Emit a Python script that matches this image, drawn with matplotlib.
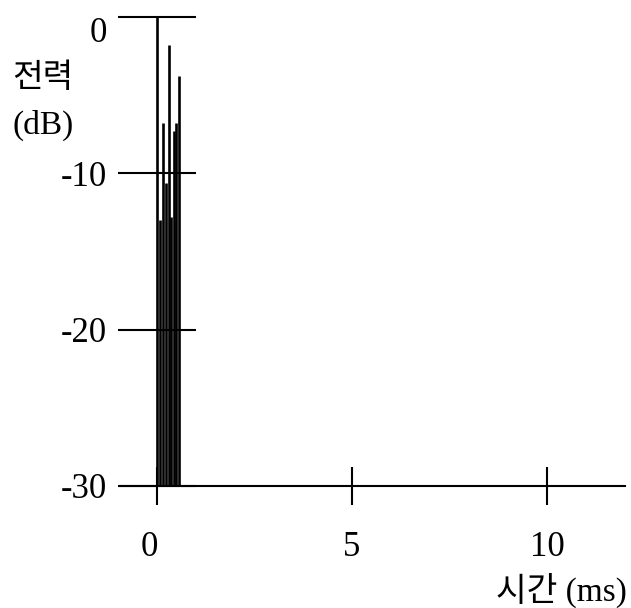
import matplotlib
matplotlib.use("Agg")
import matplotlib.pyplot as plt
import matplotlib.transforms as mtransforms

# Data
times_ms = [0.0, 0.08, 0.15, 0.23, 0.30, 0.36, 0.43, 0.49, 0.56]
levels_db = [0.0, -13.0, -6.8, -10.6, -1.8, -12.8, -7.3, -6.8, -3.8]
x_ticks = [0, 5, 10]
y_ticks = [0, -10, -20, -30]
y_label_lines = ["전력", "(dB)"]
x_label = "시간 (ms)"

plt.rcParams['font.family'] = ['Liberation Serif', 'Noto Sans CJK KR', 'DejaVu Sans']

W, H = 631, 608
fig = plt.figure(figsize=(W / 100, H / 100), dpi=100)
ax = fig.add_axes([120 / W, (H - 486) / H, 505 / W, (486 - 17) / H])

ax.vlines(times_ms, -30, levels_db, colors='black', linewidth=1.9, clip_on=False)

ax.set_xlim(-37 / 39, (625 - 157) / 39)
ax.set_ylim(-30, 0)

for s in ['top', 'right', 'left']:
    ax.spines[s].set_visible(False)
ax.spines['bottom'].set_linewidth(1.5)
ax.spines['left'].set_position(('data', 0))

ax.set_xticks(x_ticks)
ax.set_xticklabels([str(v) for v in x_ticks])
ax.set_yticks(y_ticks)
ax.set_yticklabels([str(v) for v in y_ticks])

ax.tick_params(axis='x', direction='inout', length=27.4, width=1.5, pad=19, labelsize=25)
ax.tick_params(axis='y', direction='inout', length=56, width=1.5, pad=8, labelsize=25)

# offset corner labels
for lbl in ax.get_xticklabels():
    if lbl.get_text() == '0':
        lbl.set_transform(lbl.get_transform() + mtransforms.ScaledTranslation(-8 / 100, 0, fig.dpi_scale_trans))
for lbl in ax.get_yticklabels():
    if lbl.get_text() == '0':
        lbl.set_transform(lbl.get_transform() + mtransforms.ScaledTranslation(0, -12 / 100, fig.dpi_scale_trans))

fig.text(12 / W, 1 - 77 / H, y_label_lines[0], fontsize=24, ha='left', va='center',
         family=['Noto Sans CJK KR', 'DejaVu Sans'], fontweight='light')
fig.text(12 / W, 1 - 125 / H, y_label_lines[1], fontsize=24, ha='left', va='center')
fig.text(627 / W, 1 - 590 / H, x_label, fontsize=24, ha='right', va='center')

fig.savefig('out.png', dpi=100)
